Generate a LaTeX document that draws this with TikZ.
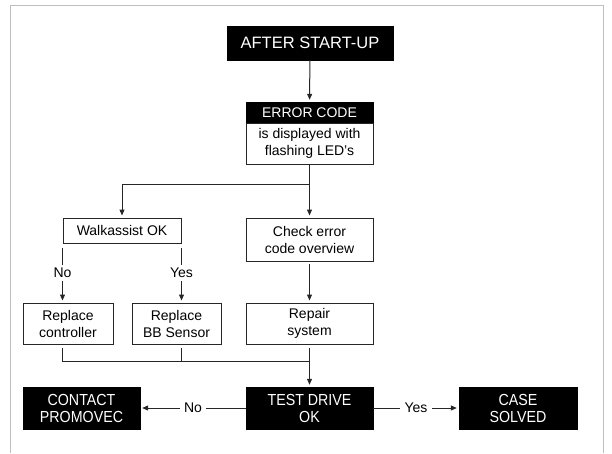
\documentclass[tikz,border=0pt]{standalone}
\usepackage{fontspec}
\setmainfont{Liberation Sans}
\newfontfamily\condfont[FakeStretch=0.89]{Liberation Sans}
\usetikzlibrary{arrows.meta}
\begin{document}
\begin{tikzpicture}[x=1pt,y=-1pt,
  txt/.style={font=\fontsize{14}{17}\selectfont},
  blackbox/.style={txt, fill=black, draw=black, text=white, align=center, inner sep=0pt},
  endbox/.style={blackbox, font=\condfont\fontsize{16}{17}\selectfont},
  whitebox/.style={txt, fill=white, draw=black!85, line width=1pt, align=center, inner sep=0pt},
  conn/.style={line width=1pt, draw=black!85},
  arr/.style={conn, -{Triangle[length=6pt,width=5pt]}, shorten >=2pt},
  lbl/.style={txt, fill=white, inner xsep=4.5pt, inner ysep=3.5pt},
  frame/.style={draw=black!25, line width=0.9pt}
]
\useasboundingbox (0,0) rectangle (612,453);
\draw[frame] (10.5,453) -- (10.5,5.5) -- (603.5,5.5) -- (603.5,453);

\node[blackbox, minimum width=166pt, minimum height=34pt, font=\fontsize{16.5}{20}\selectfont] (start) at (310,43) {AFTER START-UP};
\node[blackbox, minimum width=127pt, minimum height=21pt] (errh) at (309.5,112.5) {ERROR CODE};
\node[whitebox, minimum width=127pt, minimum height=41pt] (errb) at (309.5,143.5) {is displayed with\\flashing LED’s};

\node[whitebox, minimum width=118pt, minimum height=25pt] (walk) at (122,230.5) {Walkassist OK};
\node[whitebox, minimum width=127pt, minimum height=43pt] (check) at (309.5,239.5) {Check error\\code overview};

\node[whitebox, minimum width=90pt, minimum height=41pt] (rc) at (68,323.5) {Replace\\controller};
\node[whitebox, minimum width=89pt, minimum height=41pt] (bb) at (176.5,323.5) {Replace\\BB Sensor};
\node[whitebox, minimum width=127pt, minimum height=41pt] (repair) at (309.5,323.5) {Repair\\system};

\node[endbox, minimum width=117pt, minimum height=42pt] (contact) at (81.5,408) {CONTACT\\PROMOVEC};
\node[endbox, minimum width=127pt, minimum height=42pt] (test) at (309.5,408) {TEST DRIVE\\OK};
\node[endbox, minimum width=118pt, minimum height=42pt] (case) at (518,408) {CASE\\SOLVED};

\coordinate (split) at (309.5,184);
\coordinate (merge) at (309.5,361);

\draw[arr] (start) -- (errh);
\draw[conn] (errb.south) -- (split);
\draw[arr] (split) -| (walk.north);
\draw[arr] (split) -- (check.north);
\draw[arr, shorten <=2pt] (check.south) -- (repair.north);

\draw[arr, shorten <=4pt] (walk.south west) -- node[lbl]{No} (walk.west |- rc.north);
\draw[arr, shorten <=4pt] (walk.south east) -- node[lbl]{Yes} (walk.east |- bb.north);

\draw[conn, shorten <=3pt] (walk.west |- rc.south) -- (walk.west |- merge) -- (merge);
\draw[conn, shorten <=3pt] (walk.east |- bb.south) -- (walk.east |- merge);
\draw[arr, shorten <=3pt] (repair.south) -- (test.north);

\draw[arr] (test.west) -- node[lbl]{No} (contact.east);
\draw[arr] (test.east) -- node[lbl]{Yes} (case.west);
\end{tikzpicture}
\end{document}
